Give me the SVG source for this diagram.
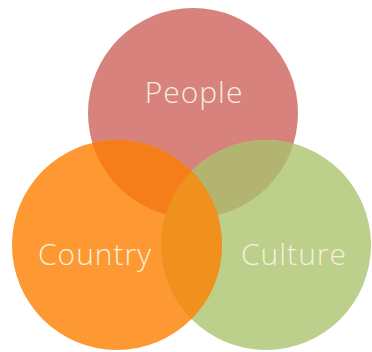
<svg xmlns="http://www.w3.org/2000/svg" width="372" height="352" viewBox="0 0 372 352">
  <style>
    .lbl { font-family: "Open Sans", "Liberation Sans", sans-serif; font-size: 30px; font-weight: 300; letter-spacing: 1px; fill: #f6efdc; text-anchor: middle; }
  </style>
  <defs>
    <clipPath id="cpPeople"><circle cx="193" cy="113" r="105"/></clipPath>
    <clipPath id="cpCountry"><circle cx="117" cy="245" r="105"/></clipPath>
    <clipPath id="cpCulture"><circle cx="266" cy="245" r="105"/></clipPath>
  </defs>
  <rect width="372" height="352" fill="#ffffff"/>
  <g id="people">
    <circle cx="193" cy="113" r="105" fill="#d7827d"/>
  </g>
  <g id="culture">
    <circle cx="266" cy="245" r="105" fill="#bccf8b"/>
  </g>
  <g id="country">
    <circle cx="117" cy="245" r="105" fill="#fe9833"/>
  </g>
  <g id="overlaps">
    <g clip-path="url(#cpPeople)">
      <circle cx="266" cy="245" r="105" fill="#b3b46f"/>
      <circle cx="117" cy="245" r="105" fill="#f57e1a"/>
    </g>
    <g clip-path="url(#cpCountry)">
      <circle cx="266" cy="245" r="105" fill="#f0901d"/>
    </g>
  </g>
  <g id="labels">
    <text class="lbl" x="194" y="103">People</text>
    <text class="lbl" x="95" y="265">Country</text>
    <text class="lbl" x="294" y="265">Culture</text>
  </g>
</svg>
